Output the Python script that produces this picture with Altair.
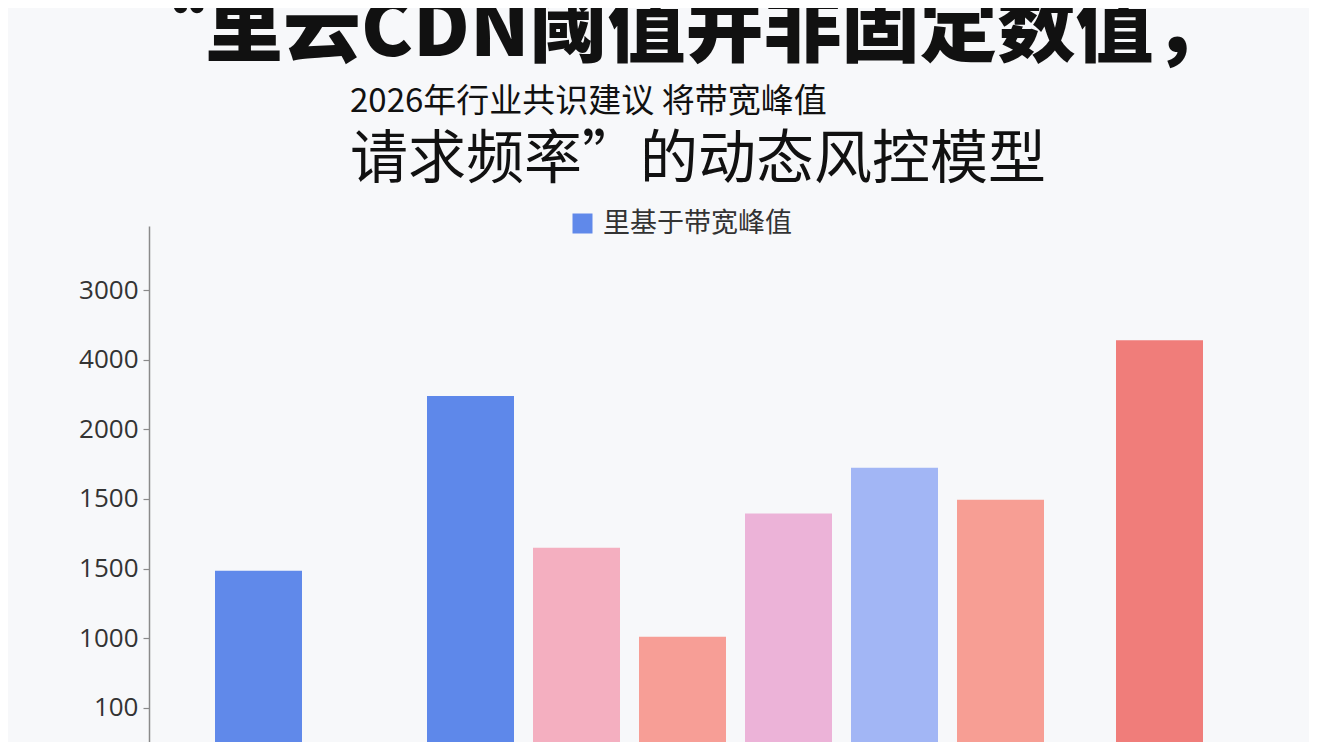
import json
import altair as alt
import pandas as pd

# ---- data ----
categories = ["A", "B", "C", "D", "E", "F", "G", "H"]
levels = [1.97, 4.48, 2.30, 1.02, 2.79, 3.45, 2.99, 5.28]   # heights in axis-tick steps
bar_colors = ["#6089EA", "#5E88EA", "#F4AFC0", "#F79E96", "#ECB3D8", "#A2B6F5", "#F79E94", "#F07D7A"]
y_tick_labels = ["100", "1000", "1500", "1500", "2000", "4000", "3000"]  # bottom to top
y_tick_positions = list(range(len(y_tick_labels)))
legend_label = "里基于带宽峰值"
title_line1 = "“里云CDN阈值并非固定数值，"
title_line2 = "2026年行业共识建议 将带宽峰值"
title_line3 = "请求频率”的动态风控模型"

# band-scale slots: bars sit on some slots, the unnamed ones are empty spacing
slots = ["A", "_1", "_2", "_3", "B", "_5", "C", "_7", "D", "_9",
         "E", "_11", "F", "_13", "G", "_15", "_16", "H"]

Y_MIN, Y_MAX = -0.49, 6.92
CJK = "Noto Sans CJK SC"

df = pd.DataFrame({"category": categories, "level": levels})

bars = alt.Chart(df).mark_bar(width=87).encode(
    x=alt.X(
        "category:N",
        sort=None,
        scale=alt.Scale(domain=slots, range=[83, 1037], paddingInner=0, paddingOuter=0),
        axis=None,
    ),
    y=alt.Y(
        "level:Q",
        scale=alt.Scale(domain=[Y_MIN, Y_MAX], nice=False, zero=False),
        axis=alt.Axis(
            values=y_tick_positions,
            labelExpr=f"{json.dumps(y_tick_labels)}[datum.value]",
            title=None,
            grid=False,
            domainColor="#8a8a8a",
            domainWidth=1.5,
            tickColor="#8a8a8a",
            tickSize=6,
            tickWidth=1.2,
            labelFontSize=26,
            labelColor="#333333",
            labelFont="Open Sans",
            labelPadding=5,
        ),
    ),
    y2=alt.datum(Y_MIN),
    color=alt.Color(
        "category:N",
        title=None,
        scale=alt.Scale(domain=categories, range=bar_colors),
        legend=alt.Legend(
            values=[categories[0]],
            labelExpr=json.dumps(legend_label),
            orient="none",
            legendX=420,
            legendY=-16,
            padding=0,
            symbolType="square",
            symbolSize=400,
            symbolStrokeWidth=0,
            labelFontSize=27,
            labelFont=CJK,
            labelColor="#333333",
            labelOffset=7,
            labelLimit=0,
        ),
    ),
)


def text_layer(text, x, y, size, weight):
    return alt.Chart(pd.DataFrame({"t": [text]})).mark_text(
        align="left",
        baseline="alphabetic",
        fontSize=size,
        fontWeight=weight,
        font=CJK,
        color="#111111",
    ).encode(x=alt.value(x), y=alt.value(y), text="t:N")


t1 = text_layer(title_line1, -22, -170, 78, 900)
t2 = text_layer(title_line2, 201, -114, 33, 400)
t3 = text_layer(title_line3, 201, -48, 58, 400)

chart = alt.layer(bars, t1, t2, t3).properties(
    width=1120,
    height=516,
    autosize=alt.AutoSizeParams(type="none"),
    padding={"left": 141, "top": 218, "right": 40, "bottom": 0},
    background="#f7f8fa",
).configure_view(stroke=None)

chart.save("out.html", embed_options={"renderer": "svg", "actions": False})
